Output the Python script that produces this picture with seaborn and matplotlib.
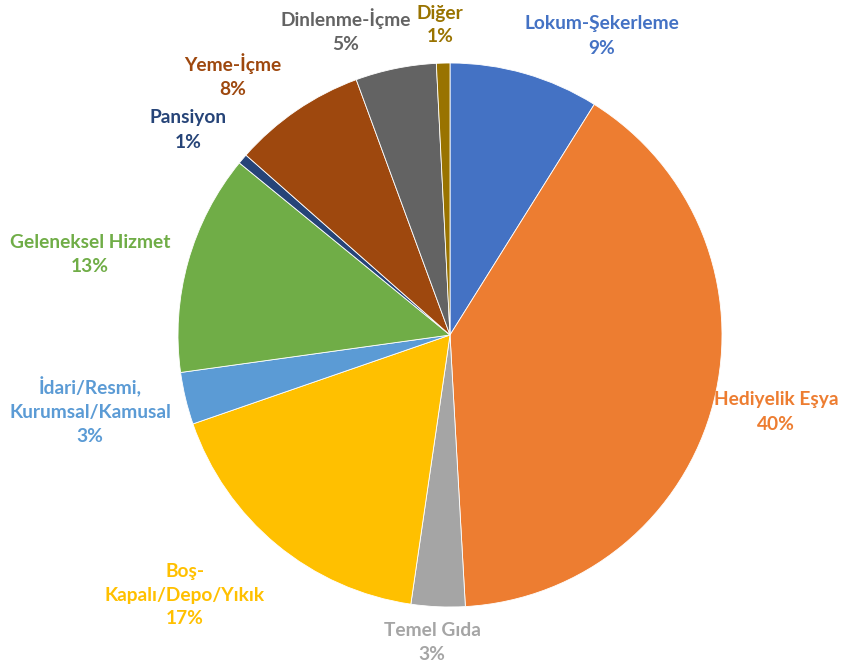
import numpy as np
import matplotlib
matplotlib.use("Agg")
import matplotlib.pyplot as plt
import seaborn as sns

# slice data, clockwise from 12 o'clock
categories = ["Lokum-Şekerleme", "Hediyelik Eşya", "Temel Gıda", "Boş-\nKapalı/Depo/Yıkık",
              "İdari/Resmi,\nKurumsal/Kamusal", "Geleneksel Hizmet", "Pansiyon",
              "Yeme-İçme", "Dinlenme-İçme", "Diğer"]
shares = [8.9, 40.2, 3.2, 17.4, 3.1, 13.1, 0.6, 7.9, 4.8, 0.8]
colors = ["#4472C4", "#ED7D31", "#A5A5A5", "#FFC000", "#5B9BD5",
          "#70AD47", "#264478", "#9E480E", "#636363", "#997300"]

# label block centres in pixels of the 859x665 picture
label_px = [(602, 36), (776, 412), (432, 642), (185, 595), (90, 411),
            (90, 254), (188, 130), (233, 76), (346, 31), (440, 25)]

sns.set_theme(style="white")
plt.rcParams["font.family"] = ["Lato", "DejaVu Sans"]

fig = plt.figure(figsize=(8.59, 6.65), dpi=100)
ax = fig.add_axes([0, 0, 1, 1])

cx, cy, r = 450, 335, 272
wedges, _ = ax.pie(shares, colors=colors, startangle=90, counterclock=False,
                   radius=1, wedgeprops=dict(linewidth=0.6, edgecolor="white"))

for name, val, col, (px, py) in zip(categories, shares, colors, label_px):
    x = (px - cx) / r
    y = (cy - py) / r
    ax.text(x, y, f"{name}\n{val:.0f}%", color=col, ha="center", va="center",
            fontsize=13.8, fontweight="bold", linespacing=1.5)

ax.set_xlim(-cx / r, (859 - cx) / r)
ax.set_ylim(-(665 - cy) / r, cy / r)
ax.set_aspect("auto")
ax.axis("off")

fig.savefig("out.png", dpi=100)
